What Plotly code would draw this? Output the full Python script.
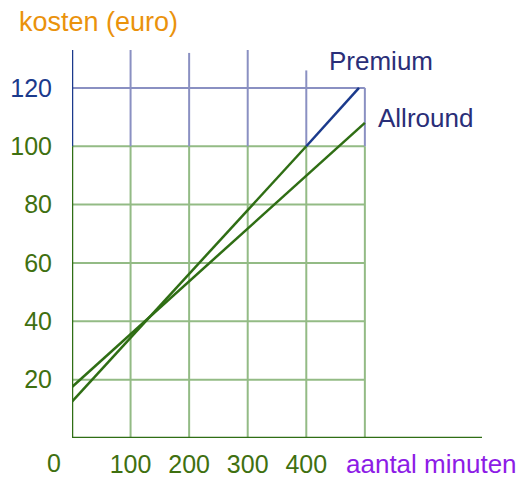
import plotly.graph_objects as go

# ---- data ----
premium_x = [0, 400, 490]
premium_y = [12.5, 100, 120]
allround_x = [0, 500]
allround_y = [17.5, 108]

y_ticks = [20, 40, 60, 80, 100, 120]
x_ticks = [100, 200, 300, 400]
grid_x = [100, 200, 300, 400, 500]
grid_x_top = [133, 132, 136.5, 126, 120]
grid_y = [20, 40, 60, 80, 100, 120]

NAVY = "#1b3a8c"
NAVY_TXT = "#2a2e78"
GREEN_TXT = "#3f7010"
GREEN_LINE = "#2f6e14"
GRID_G = "#93bb85"
GRID_B = "#8a90c2"
ORANGE = "#ea920c"
PURPLE = "#8d1ce6"
FONT = "Liberation Sans, Arial, sans-serif"

fig = go.Figure()

shapes = []
for gy in grid_y:
    shapes.append(dict(type="line", xref="x", yref="y", x0=0, x1=500, y0=gy, y1=gy,
                       line=dict(color=GRID_B if gy > 100 else GRID_G, width=2), layer="below"))
for gx, top in zip(grid_x, grid_x_top):
    shapes.append(dict(type="line", xref="x", yref="y", x0=gx, x1=gx, y0=0, y1=100,
                       line=dict(color=GRID_G, width=2), layer="below"))
    shapes.append(dict(type="line", xref="x", yref="y", x0=gx, x1=gx, y0=100, y1=top,
                       line=dict(color=GRID_B, width=2), layer="below"))
shapes.append(dict(type="line", xref="x", yref="y", x0=0, x1=0, y0=0, y1=100,
                   line=dict(color=GREEN_LINE, width=2.5)))
shapes.append(dict(type="line", xref="x", yref="y", x0=0, x1=0, y0=100, y1=133,
                   line=dict(color=NAVY, width=2.5)))
shapes.append(dict(type="line", xref="x", yref="y", x0=0, x1=700, y0=0, y1=0,
                   line=dict(color=GREEN_LINE, width=2.5)))

fig.add_trace(go.Scatter(x=allround_x, y=allround_y, mode="lines",
                         line=dict(color=GREEN_LINE, width=2.5), showlegend=False))
fig.add_trace(go.Scatter(x=premium_x[:2], y=premium_y[:2], mode="lines",
                         line=dict(color=GREEN_LINE, width=2.5), showlegend=False))
fig.add_trace(go.Scatter(x=premium_x[1:], y=premium_y[1:], mode="lines",
                         line=dict(color=NAVY, width=2.5), showlegend=False))

ytext = [f"<span style='color:{NAVY if v > 100 else GREEN_TXT}'>{v}</span>" for v in y_ticks]

annotations = [
    dict(text="kosten (euro)", x=0, xref="paper", y=1, yref="paper", xanchor="left", yanchor="bottom",
         xshift=-55, yshift=11, showarrow=False, font=dict(family=FONT, size=27, color=ORANGE)),
    dict(text="Premium", x=440, xref="x", y=120, yref="y", xanchor="left", yanchor="bottom",
         xshift=-3, yshift=10, showarrow=False, font=dict(family=FONT, size=26, color=NAVY_TXT)),
    dict(text="Allround", x=520, xref="x", y=108, yref="y", xanchor="left", yanchor="bottom",
         xshift=-1, yshift=-12, showarrow=False, font=dict(family=FONT, size=26, color=NAVY_TXT)),
    dict(text="0", x=0, xref="x", y=0, yref="paper", xanchor="center", yanchor="top",
         xshift=-18, yshift=-9, showarrow=False, font=dict(family=FONT, size=25, color=GREEN_TXT)),
    dict(text="aantal minuten", x=472, xref="x", y=0, yref="paper", xanchor="left", yanchor="top",
         xshift=-4, yshift=-9, showarrow=False, font=dict(family=FONT, size=26, color=PURPLE)),
]

# the page body adds an 8px offset, so the figure is 8px smaller and margins shifted
fig.update_layout(
    width=516, height=473,
    margin=dict(l=64, r=42, t=42, b=43, autoexpand=False),
    paper_bgcolor="white", plot_bgcolor="white",
    shapes=shapes, annotations=annotations,
    xaxis=dict(range=[0, 700], showgrid=False, zeroline=False, showline=False, automargin=False,
               tickvals=x_ticks, ticktext=[str(v) for v in x_ticks], ticks="",
               ticklabelstandoff=9,
               tickfont=dict(family=FONT, size=25, color=GREEN_TXT)),
    yaxis=dict(range=[0, 133], showgrid=False, zeroline=False, showline=False, automargin=False,
               tickvals=y_ticks, ticktext=ytext, ticks="", ticklabelstandoff=19,
               tickfont=dict(family=FONT, size=25, color=GREEN_TXT)),
)

fig.write_html("out.html")
